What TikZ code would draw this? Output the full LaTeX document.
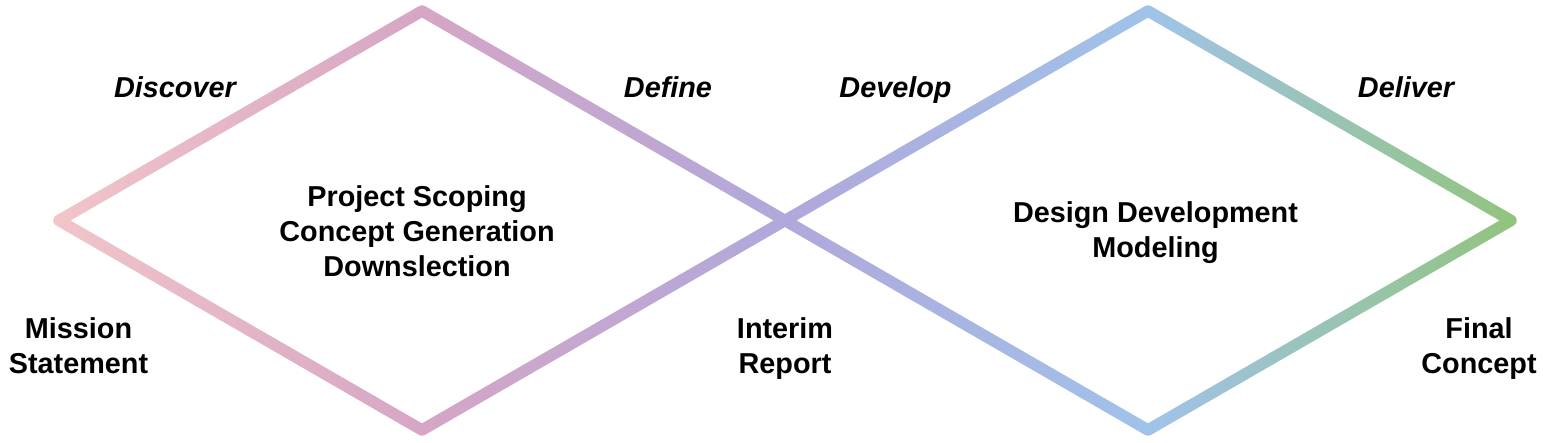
\documentclass[tikz,border=0pt]{standalone}
\usepackage{fontspec}
\setmainfont{Liberation Sans}
\usetikzlibrary{calc}
\definecolor{rosepink}{HTML}{F2C5C9}
\definecolor{mauvepink}{HTML}{D6A6C5}
\definecolor{lavender}{HTML}{B0A8DB}
\definecolor{skyblue}{HTML}{A0C3E9}
\definecolor{leafgreen}{HTML}{92C47D}
\pgfdeclarehorizontalshading{doublediamond}{100bp}{color(0bp)=(rosepink); color(25bp)=(rosepink);
  color(37.5bp)=(mauvepink); color(50bp)=(lavender); color(62.5bp)=(skyblue);
  color(75bp)=(leafgreen); color(100bp)=(leafgreen)}

\begin{document}
\begin{tikzpicture}[x=0.5pt,y=0.5pt,
    phase/.style={font=\fontsize{14.4}{17.5}\selectfont\bfseries\itshape,anchor=base,inner sep=0pt},
    stage/.style={font=\fontsize{14.4}{17.5}\selectfont\bfseries,align=center,inner sep=0pt}]
    \useasboundingbox (0,0) rectangle (1543,443);
    \def\hw{5.75}
    % corners of the two diamonds
    \coordinate (L) at (59,222.5);
    \coordinate (T1) at (422,432);
    \coordinate (B1) at (422,13);
    \coordinate (X) at (785,222.5);
    \coordinate (T2) at (1148,432);
    \coordinate (B2) at (1148,13);
    \coordinate (R) at (1511,222.5);
    % thick outline as a shaded ring
    \shade[shading=doublediamond]
      ($(L)+(120:\hw)$) -- ($(T1)+(120:\hw)$) arc[start angle=120,end angle=60,radius=\hw]
      -- ($(X)+(2*\hw,0)$) -- ($(B1)+(-60:\hw)$) arc[start angle=-60,end angle=-120,radius=\hw]
      -- ($(L)+(-120:\hw)$) arc[start angle=240,end angle=120,radius=\hw] -- cycle
      ($(L)+(2*\hw,0)$) -- ($(B1)+(0,1.1547*\hw)$) -- ($(X)-(2*\hw,0)$) -- ($(T1)-(0,1.1547*\hw)$) -- cycle
      ($(X)-(2*\hw,0)$) -- ($(T2)+(120:\hw)$) arc[start angle=120,end angle=60,radius=\hw]
      -- ($(R)+(60:\hw)$) arc[start angle=60,end angle=-60,radius=\hw]
      -- ($(B2)+(-60:\hw)$) arc[start angle=-60,end angle=-120,radius=\hw] -- cycle
      ($(X)+(2*\hw,0)$) -- ($(B2)+(0,1.1547*\hw)$) -- ($(R)-(2*\hw,0)$) -- ($(T2)-(0,1.1547*\hw)$) -- cycle;
    \foreach \name/\x/\txt in {discover/175/Discover,define/668/Define,develop/895.5/Develop,deliver/1406/Deliver} {
      \node[phase] (\name) at (\x,345) {\txt};
    }
    \node[stage] (mission) at (78.5,97) {Mission\\Statement};
    \node[stage] (interim) at (785,94) {Interim\\Report};
    \node[stage] (final) at (1479,94) {Final\\Concept};
    \node[stage] (scoping) at (417,212) {Project Scoping\\Concept Generation\\Downslection};
    \node[stage] (design) at (1155.5,210.5) {Design Development\\Modeling};
  \end{tikzpicture}
\end{document}
